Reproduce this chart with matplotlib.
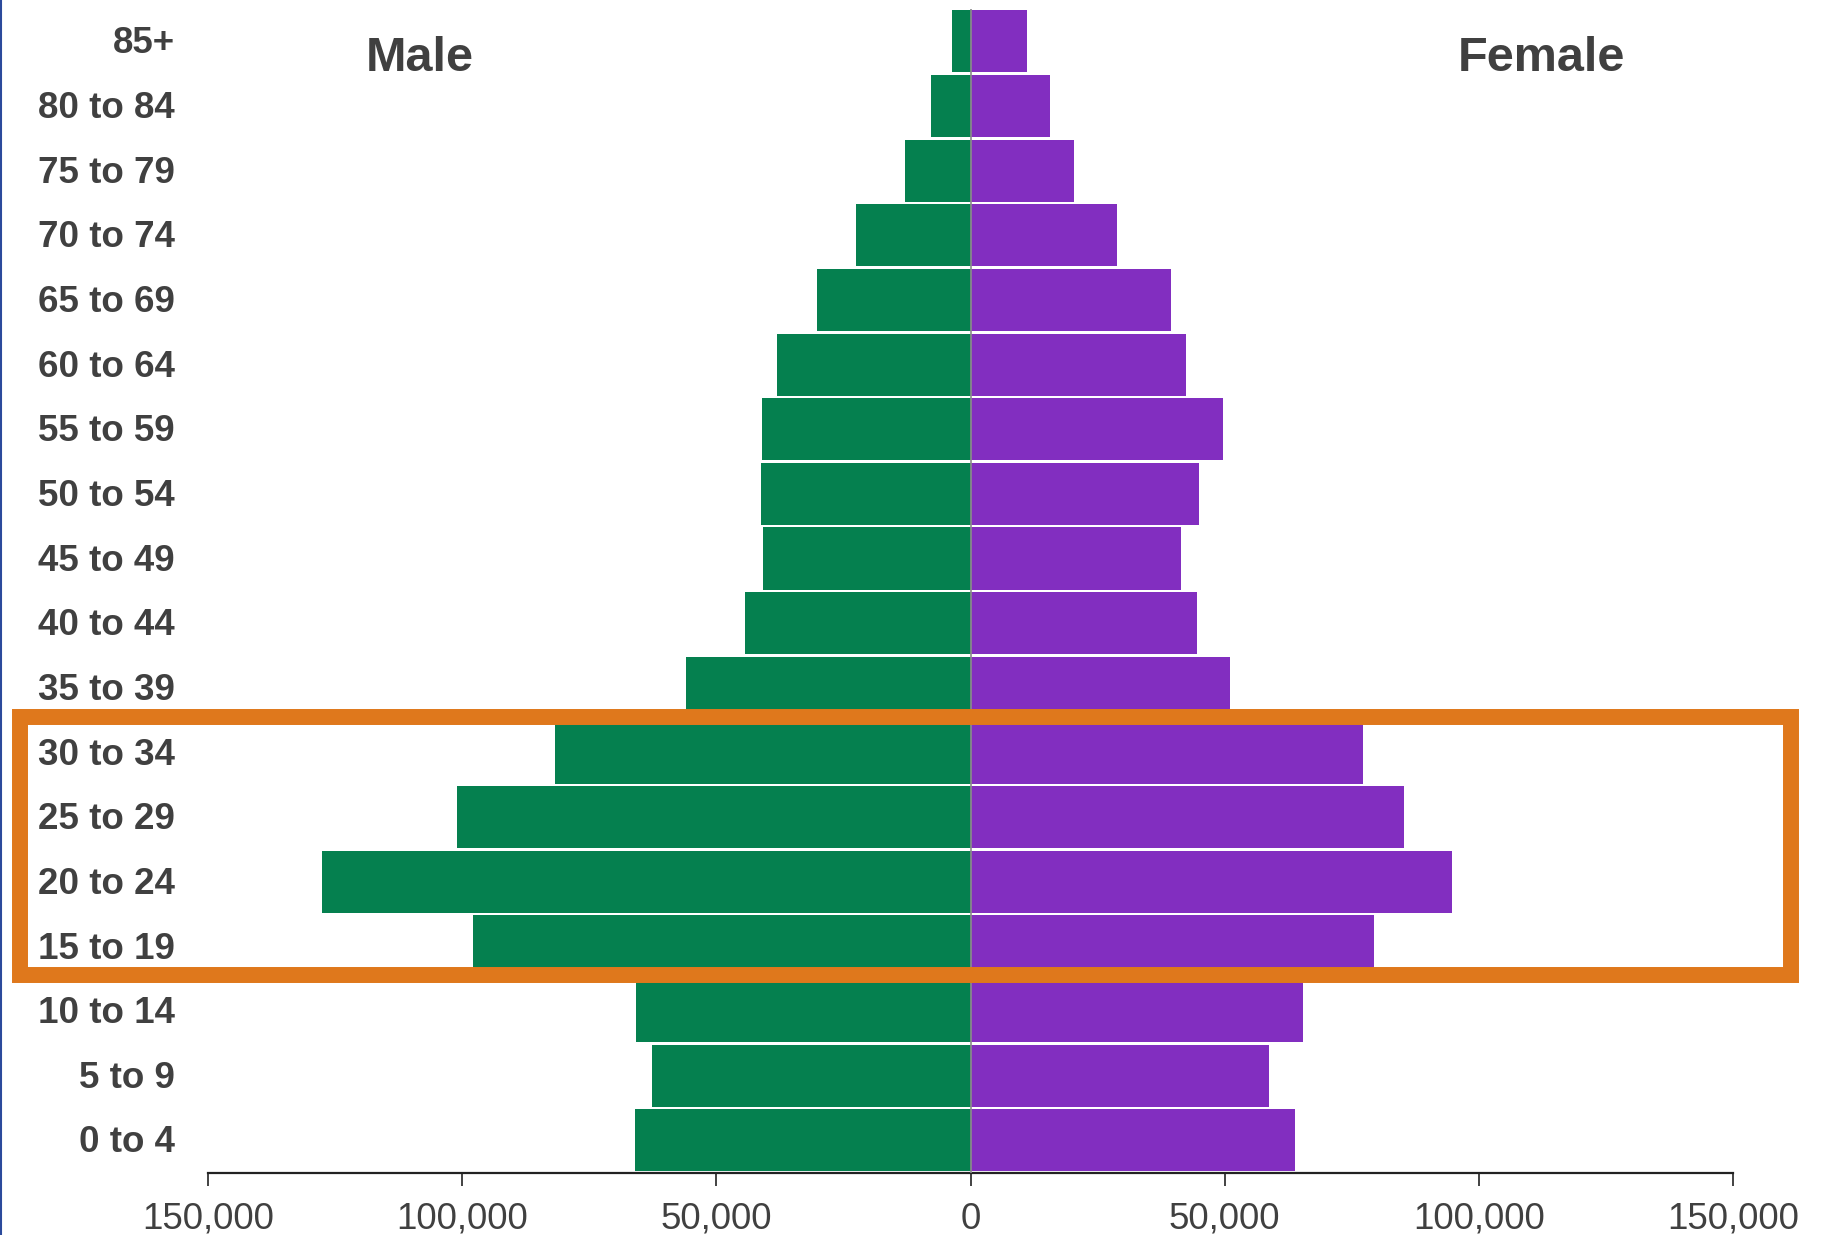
import matplotlib
matplotlib.use("Agg")
import matplotlib.pyplot as plt
import matplotlib.transforms as mtransforms
from matplotlib.patches import Rectangle
from matplotlib.lines import Line2D
from matplotlib.ticker import FuncFormatter

# age bands, bottom to top
ages = ["0 to 4", "5 to 9", "10 to 14", "15 to 19", "20 to 24", "25 to 29",
        "30 to 34", "35 to 39", "40 to 44", "45 to 49", "50 to 54", "55 to 59",
        "60 to 64", "65 to 69", "70 to 74", "75 to 79", "80 to 84", "85+"]
male = [66000, 62600, 65800, 97800, 127600, 101000, 81700, 56000, 44300,
        40900, 41300, 41100, 38100, 30100, 22600, 12900, 7700, 3700]
female = [63800, 58800, 65400, 79400, 94700, 85300, 77300, 51000, 44600,
          41400, 45000, 49700, 42300, 39400, 28800, 20300, 15700, 11100]
xticks = [-150000, -100000, -50000, 0, 50000, 100000, 150000]

green = "#05804f"
purple = "#822ec0"
orange = "#df781c"
txt = "#404040"

plt.rcParams["font.family"] = ["Liberation Sans", "DejaVu Sans"]

fig = plt.figure(figsize=(18.21, 12.35), dpi=100)
ax = fig.add_axes([208 / 1821, 1 - 1172.7 / 1235, 1525 / 1821, (1172.7 - 9) / 1235])

y = range(len(ages))
ax.barh(y, [-m for m in male], height=0.96, color=green)
ax.barh(y, female, height=0.96, color=purple)
ax.axvline(0, color="#8c8c8c", lw=1.2, zorder=3)

ax.set_xlim(-150000, 150000)
ax.set_ylim(-0.5, len(ages) - 0.5)
ax.set_xticks(xticks)
ax.xaxis.set_major_formatter(FuncFormatter(lambda v, p: f"{abs(int(v)):,}"))
ax.tick_params(axis="x", length=9, width=1.2, color="#222222", pad=12,
               labelsize=26.5, labelcolor=txt)
ax.set_yticks([])
for s in ["top", "right", "left"]:
    ax.spines[s].set_visible(False)
ax.spines["bottom"].set_linewidth(1.6)
ax.spines["bottom"].set_color("#222222")

# age labels on the left
trans = mtransforms.blended_transform_factory(fig.transFigure, ax.transData)
for i, a in enumerate(ages):
    fig.text(175 / 1821, i - 0.04, a, ha="right", va="center", fontsize=26.5,
             fontweight="bold", color=txt, transform=trans)

ax.text(-108300, 16.74, "Male", ha="center", va="center", fontsize=35,
        fontweight="bold", color=txt)
ax.text(112300, 16.74, "Female", ha="center", va="center", fontsize=35,
        fontweight="bold", color=txt)

# highlight box around 15-34
fig.patches.append(Rectangle((19.5 / 1821, 1 - 974.7 / 1235),
                             (1791 - 19.5) / 1821, (974.7 - 717) / 1235,
                             transform=fig.transFigure, fill=False,
                             edgecolor=orange, lw=11.5, zorder=5))
fig.lines.append(Line2D([0.0006, 0.0006], [0, 1], transform=fig.transFigure,
                        color="#2b4a9c", lw=1.5))

fig.savefig("out.png", dpi=100)
